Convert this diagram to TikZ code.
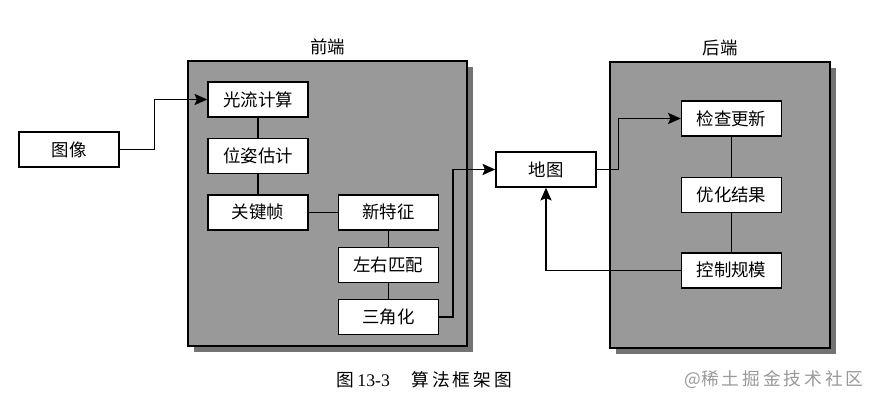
\documentclass[tikz,border=0pt]{standalone}
\usepackage{fontspec}
\setmainfont{Noto Sans CJK SC}
\newfontfamily\latinserif{Liberation Serif}
\usetikzlibrary{arrows.meta,positioning,shadows}

\tikzset{
  blk/.style={draw, line width=1pt, fill=white, minimum width=2.5cm, minimum height=0.875cm, inner sep=0pt, font=\fontsize{12.4}{14}\selectfont},
  panel/.style={draw, line width=1pt, fill=black!40, drop shadow={shadow xshift=0.15cm, shadow yshift=-0.15cm, fill=black!55, opacity=1}, label={[font=\fontsize{12.4}{14}\selectfont, label distance=0pt]above:#1}},
  link/.style={line width=0.9pt},
  flow/.style={line width=0.9pt, -{Stealth[length=3.2mm, width=2.8mm, inset=0.6mm]}}
}

\begin{document}
\begin{tikzpicture}
\useasboundingbox (0,0) rectangle (21.725,10.2);
\node[panel=前端, minimum width=6.975cm, minimum height=7.125cm] (front) at (8.1875,5.1125) {};
\node[panel=后端, minimum width=5.5cm, minimum height=7.15cm] (back) at (18.0,5.075) {};

\node[blk] (img) at (1.725,6.4625) {图像};
\node[blk] (flowcalc) at (6.45,7.7125) {光流计算};
\node[blk, below=0.5cm of flowcalc] (pose) {位姿估计};
\node[blk, below=0.5cm of pose] (keyframe) {关键帧};
\node[blk, right=0.725cm of keyframe] (newfeat) {新特征};
\node[blk, below=0.4cm of newfeat] (stereo) {左右匹配};
\node[blk, below=0.4cm of stereo] (triang) {三角化};
\node[blk] (map) at (13.65,5.9625) {地图};
\node[blk] (check) at (18.2875,7.2375) {检查更新};
\node[blk, below=1cm of check] (optim) {优化结果};
\node[blk, below=0.975cm of optim] (scale) {控制规模};

\draw[link] (flowcalc) -- (pose) (pose) -- (keyframe) (keyframe) -- (newfeat) (newfeat) -- (stereo) (stereo) -- (triang);
\draw[link] (check) -- (optim) (optim) -- (scale);
\draw[flow] (img.east) -- ++(0.875,0) |- (flowcalc.west);
\draw[flow] (triang.east) -- ++(0.35,0) |- (map.west);
\draw[flow] (map.east) -- ++(0.55,0) |- (check.west);
\draw[flow] (scale.west) -| (map.south);

\node[font=\fontsize{12.6}{14}\selectfont] (caption) at (10.61,0.7) {图\,{\latinserif 13-3}\quad\ 算\,法\,框\,架\,图};
\node[font=\fontsize{12.6}{15}\selectfont, text=black!40] (mark) at (19.35,0.7) {@稀\,土\,掘\,金\,技\,术\,社\,区};
\end{tikzpicture}
\end{document}
